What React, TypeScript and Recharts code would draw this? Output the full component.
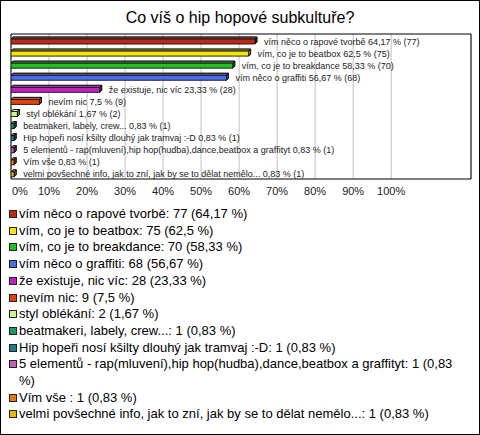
import { BarChart, Bar, XAxis, YAxis, CartesianGrid, LabelList, Cell, ReferenceArea } from 'recharts';

const answers = [
  'vím něco o rapové tvorbě',
  'vím, co je to beatbox',
  'vím, co je to breakdance',
  'vím něco o graffiti',
  'že existuje, nic víc',
  'nevím nic',
  'styl oblékání',
  'beatmakeri, labely, crew...',
  'Hip hopeři nosí kšilty dlouhý jak tramvaj :-D',
  '5 elementů - rap(mluvení),hip hop(hudba),dance,beatbox a graffityt',
  'Vím vše ',
  'velmi povšechné info, jak to zní, jak by se to dělat nemělo...'
];
const counts = [77, 75, 70, 68, 28, 9, 2, 1, 1, 1, 1, 1];
const percents = [64.17, 62.5, 58.33, 56.67, 23.33, 7.5, 1.67, 0.83, 0.83, 0.83, 0.83, 0.83];
const colors = [
  '#c0281c', '#f8e400', '#20c020', '#4a6ee6', '#c41fc4', '#e2420e',
  '#c8f890', '#1a9a5c', '#217a8e', '#c25fc0', '#e57a10', '#e6b60a'
];
const xTicks = [0, 10, 20, 30, 40, 50, 60, 70, 80, 90, 100];

const FONT = '"Liberation Sans", Arial, sans-serif';
const fmt = (v: number) => String(v).replace('.', ',');

const data = answers.map((name, i) => ({ name, count: counts[i], pct: percents[i] }));

function Bar3D(props: any) {
  const { x, width, height, fill } = props;
  const y = props.y + 1;
  const d = 2;
  const w = Math.max(width, 1);
  return (
    <g stroke="#111" strokeWidth={0.9} strokeLinejoin="round">
      <polygon points={`${x},${y} ${x + d},${y - d} ${x + w + d},${y - d} ${x + w},${y}`} fill={fill} />
      <polygon points={`${x},${y} ${x + d},${y - d} ${x + w + d},${y - d} ${x + w},${y}`} fill="#fff" fillOpacity={0.25} />
      <polygon points={`${x + w},${y} ${x + w + d},${y - d} ${x + w + d},${y + height - d} ${x + w},${y + height}`} fill={fill} />
      <polygon points={`${x + w},${y} ${x + w + d},${y - d} ${x + w + d},${y + height - d} ${x + w},${y + height}`} fill="#000" fillOpacity={0.3} />
      <rect x={x} y={y} width={w} height={height} fill={fill} />
    </g>
  );
}

function BarLabel(props: any) {
  const { x, y, width, height, index } = props;
  const row = data[index];
  return (
    <text x={x + width + 9} y={y + height / 2 + 1} fontSize={9} fill="#222" fontFamily={FONT} dominantBaseline="central">
      {`${row.name} ${fmt(row.pct)} % (${row.count})`}
    </text>
  );
}

function PctTick(props: any) {
  const { x, y, payload } = props;
  const first = payload.value === 0;
  return (
    <text x={first ? x + 1 : x} y={y} dy="0.71em" textAnchor={first ? 'start' : 'middle'} fontSize={11} fill="#222" fontFamily={FONT}>
      {`${payload.value}%`}
    </text>
  );
}

export default function App() {
  return (
    <div style={{ position: 'absolute', left: 0, top: 0 }}>
      <div
        style={{
          position: 'relative', width: 480, height: 435, boxSizing: 'border-box',
          border: '1px solid #000', background: '#fff', fontFamily: FONT
        }}
      >
        <div style={{ position: 'absolute', left: 0, top: 8, width: 478, textAlign: 'center', fontSize: 16, color: '#000' }}>
          Co víš o hip hopové subkultuře?
        </div>
        <div style={{ position: 'absolute', left: 0, top: 0 }}>
          <BarChart
            width={478}
            height={200}
            data={data}
            layout="vertical"
            margin={{ top: 33, right: 8, left: 10, bottom: 2 }}
          >
            <CartesianGrid horizontal={false} stroke="#c0c0c0" />
            <XAxis
              type="number"
              domain={[0, 121]}
              ticks={xTicks}
              axisLine={false}
              tickLine={false}
              height={20}
              tick={<PctTick />}
              allowDataOverflow
            />
            <YAxis type="category" dataKey="name" hide />
            <ReferenceArea x1={0} x2={121} stroke="#000" strokeWidth={1} fill="none" fillOpacity={0} ifOverflow="visible" />
            <Bar dataKey="pct" barSize={5} shape={<Bar3D />} isAnimationActive={false}>
              {data.map((_, i) => (
                <Cell key={i} fill={colors[i]} />
              ))}
              <LabelList dataKey="pct" content={<BarLabel />} />
            </Bar>
          </BarChart>
        </div>
        <div style={{ position: 'absolute', left: 8, top: 205, width: 462, fontSize: 13, lineHeight: '16.7px', color: '#000' }}>
          {data.map((row, i) => (
            <div key={i} style={{ display: 'flex', alignItems: 'flex-start' }}>
              <span
                style={{
                  flex: 'none', width: 8, height: 8, marginTop: 4, marginRight: 2, boxSizing: 'border-box',
                  border: '1px solid #222', background: colors[i]
                }}
              />
              <span>{`${row.name}: ${row.count} (${fmt(row.pct)} %)`}</span>
            </div>
          ))}
        </div>
      </div>
    </div>
  );
}
